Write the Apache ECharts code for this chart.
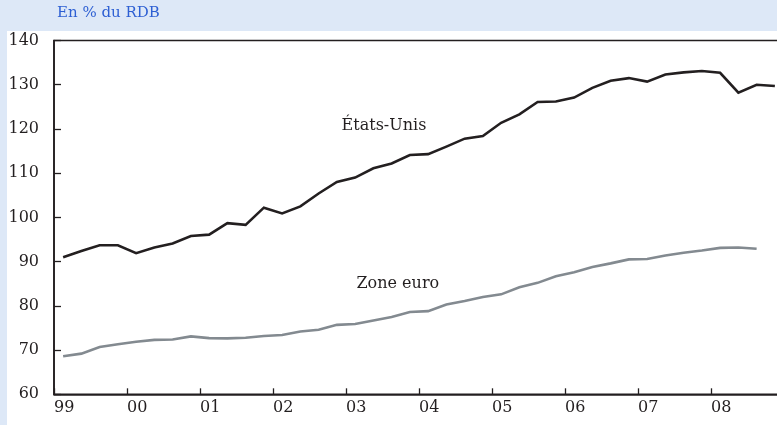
<!DOCTYPE html>
<html>
<head>
<meta charset="utf-8">
<script src="https://cdn.jsdelivr.net/npm/echarts@6/dist/echarts.min.js"></script>
<style>
  html, body { margin: 0; padding: 0; }
  #wrap { position: relative; width: 777px; height: 425px; background: #dde8f7; overflow: hidden; }
  #paper { position: absolute; left: 7px; top: 31px; right: 0; bottom: 0; background: #ffffff; }
  #chart { position: absolute; left: 0; top: 0; width: 777px; height: 425px; }
</style>
</head>
<body>
<div id="wrap"><div id="paper"></div><div id="chart"></div></div>
<script>
// Quarterly data, 1999Q1 onwards
const yearLabels = ['99','00','01','02','03','04','05','06','07','08'];
const startYear = 1999;
const usValues = [
  91.0, 92.4, 93.7, 93.7, 91.9, 93.2, 94.1, 95.8, 96.1, 98.7,
  98.3, 102.2, 100.9, 102.5, 105.4, 108.0, 109.0, 111.1, 112.2, 114.1,
  114.3, 116.0, 117.8, 118.4, 121.4, 123.3, 126.1, 126.2, 127.1, 129.3,
  130.9, 131.5, 130.7, 132.3, 132.8, 133.1, 132.7, 128.2, 130.0, 129.7
];
const euroValues = [
  68.6, 69.2, 70.7, 71.3, 71.9, 72.3, 72.4, 73.1, 72.7, 72.65,
  72.8, 73.2, 73.4, 74.2, 74.6, 75.7, 75.9, 76.7, 77.5, 78.6,
  78.8, 80.3, 81.1, 82.0, 82.6, 84.2, 85.2, 86.7, 87.6, 88.8,
  89.6, 90.5, 90.6, 91.4, 92.0, 92.5, 93.1, 93.2, 92.9
];
const seriesNames = ['États-Unis', 'Zone euro'];
const unitTitle = 'En % du RDB';

function toPoints(vals) {
  return vals.map((v, i) => [startYear + (i + 0.5) / 4, v]);
}

const FONT = 'DejaVu Serif';
const DARK = '#231f20';
const chart = echarts.init(document.getElementById('chart'), null, { renderer: 'canvas' });
chart.setOption({
  animation: false,
  backgroundColor: 'transparent',
  title: {
    text: unitTitle,
    left: 57, top: 6, padding: 0,
    textStyle: { fontFamily: FONT, fontSize: 15, fontWeight: 'normal', color: '#2d5fd3' }
  },
  grid: {
    left: 54, top: 40.5, width: 730, bottom: 30.7,
    outerBoundsMode: 'none', containLabel: false,
    show: true, borderColor: DARK, borderWidth: 1.6, backgroundColor: 'transparent'
  },
  xAxis: {
    type: 'value', min: 1999, max: 2009, interval: 1,
    axisLine: { show: true, lineStyle: { color: DARK, width: 1.6 } },
    axisTick: { show: true, inside: true, length: 6, lineStyle: { color: DARK, width: 1.3 } },
    splitLine: { show: false },
    axisLabel: {
      showMaxLabel: false,
      align: 'left', margin: 6,
      fontFamily: FONT, fontSize: 16, color: DARK,
      formatter: v => yearLabels[Math.round(v) - startYear] || ''
    }
  },
  yAxis: {
    type: 'value', min: 60, max: 140, interval: 10,
    axisLine: { show: true, lineStyle: { color: DARK, width: 1.6 } },
    axisTick: { show: true, inside: true, length: 7, lineStyle: { color: DARK, width: 1.3 } },
    splitLine: { show: false },
    axisLabel: { margin: 15, fontFamily: FONT, fontSize: 16, color: DARK }
  },
  series: [
    {
      name: seriesNames[0], type: 'line', data: toPoints(usValues),
      symbol: 'none', clip: false,
      lineStyle: { color: DARK, width: 2.6, join: 'miter' },
      markPoint: {
        symbol: 'circle', symbolSize: 0,
        label: { show: true, position: 'inside', formatter: seriesNames[0], fontFamily: FONT, fontSize: 16, color: DARK },
        data: [{ coord: [2003.52, 120.7] }]
      }
    },
    {
      name: seriesNames[1], type: 'line', data: toPoints(euroValues),
      symbol: 'none', clip: false,
      lineStyle: { color: '#838a90', width: 2.6, join: 'miter' },
      markPoint: {
        symbol: 'circle', symbolSize: 0,
        label: { show: true, position: 'inside', formatter: seriesNames[1], fontFamily: FONT, fontSize: 16, color: DARK },
        data: [{ coord: [2003.71, 84.9] }]
      }
    }
  ]
});
</script>
</body>
</html>
